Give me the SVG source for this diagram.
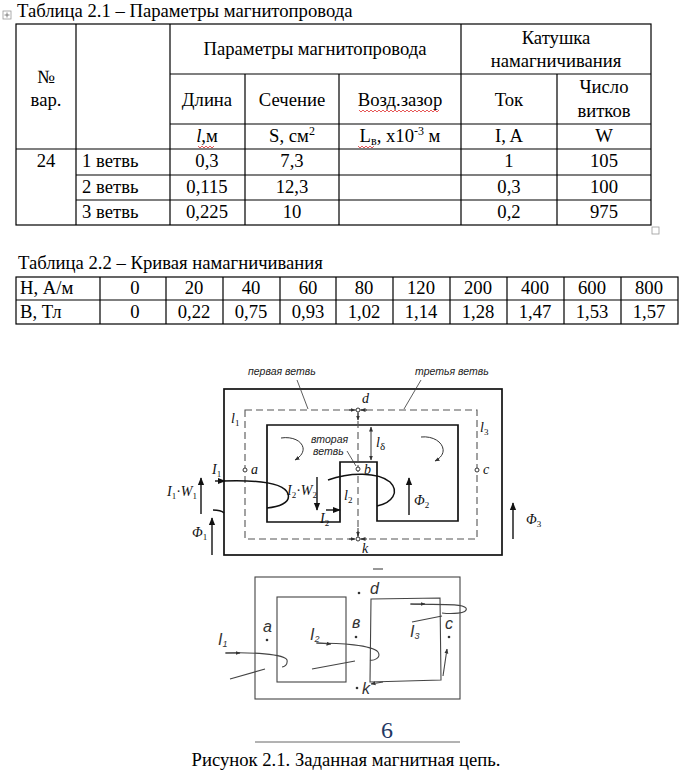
<svg xmlns="http://www.w3.org/2000/svg" width="691" height="780" viewBox="0 0 691 780">
<defs>
<style>
.t{font-family:"Liberation Serif","Times New Roman",serif;font-size:18.67px;fill:#000}
.c{text-anchor:middle}
.g{stroke:#000;stroke-width:1.2;fill:none}
.f{stroke:#111;stroke-width:1.7;fill:none}
.fd{stroke:#555;stroke-width:1.1;fill:none;stroke-dasharray:7,4}
.fi{font-family:"Liberation Serif","Times New Roman",serif;font-style:italic;font-size:14px;fill:#111}
.fs{font-family:"Liberation Sans",Arial,sans-serif;font-style:italic;font-size:10.5px;fill:#222}
.h{stroke:#444;stroke-width:1.1;fill:none}
.hw{font-family:"Liberation Sans",Arial,sans-serif;font-style:italic;font-size:16px;fill:#333}
.wv{stroke:#e03030;stroke-width:0.8;fill:none}
.ar{stroke:#111;stroke-width:1.4;fill:none}
.sa{stroke:#333;stroke-width:1;fill:none}
</style>
<marker id="ah" viewBox="0 0 10 10" refX="9" refY="5" markerWidth="8" markerHeight="8" orient="auto" markerUnits="userSpaceOnUse">
<path d="M0,1 L10,5 L0,9 z" fill="#111"/>
</marker>
<marker id="as" viewBox="0 0 10 10" refX="9" refY="5" markerWidth="5" markerHeight="5" orient="auto-start-reverse" markerUnits="userSpaceOnUse">
<path d="M0,1 L10,5 L0,9 z" fill="#333"/>
</marker>
</defs>
<rect width="691" height="780" fill="#fff"/>

<g id="table1">
<rect x="3" y="11" width="8" height="8" fill="none" stroke="#999" stroke-width="0.8"/>
<path d="M7,12.5 V17.5 M4.5,15 H9.5" stroke="#666" stroke-width="0.8"/>
<text class="t" x="17" y="17">Таблица 2.1 – Параметры магнитопровода</text>
<g class="g">
<rect x="16" y="24" width="635" height="201"/>
<path d="M76,24 V225 M170,24 V225 M461,24 V225 M245,74 V225 M339,74 V225 M557,74 V225"/>
<path d="M170,74 H651 M170,124 H651 M16,149 H651 M76,175 H651 M76,200 H651"/>
</g>
<rect x="652" y="227" width="7" height="7" fill="none" stroke="#999" stroke-width="0.8"/>
<text class="t c" x="46" y="83">№</text>
<text class="t c" x="46" y="106">вар.</text>
<text class="t c" x="315" y="55">Параметры магнитопровода</text>
<text class="t c" x="556" y="44">Катушка</text>
<text class="t c" x="556" y="67">намагничивания</text>
<text class="t c" x="207" y="106">Длина</text>
<text class="t c" x="292" y="106">Сечение</text>
<text class="t c" x="400" y="106">Возд.зазор</text>
<text class="t c" x="509" y="106">Ток</text>
<text class="t c" x="604" y="93">Число</text>
<text class="t c" x="604" y="117">витков</text>
<text class="t c" x="207" y="142"><tspan font-style="italic">l</tspan>,м</text>
<text class="t c" x="292" y="142">S, см<tspan font-size="12" dy="-7">2</tspan></text>
<text class="t c" x="400" y="142">L<tspan font-size="12" dy="3">в</tspan><tspan dy="-3">, x10</tspan><tspan font-size="12" dy="-7">-3</tspan><tspan dy="7"> м</tspan></text>
<text class="t c" x="509" y="142">I, A</text>
<text class="t c" x="604" y="142">W</text>
<text class="t c" x="46" y="167">24</text>
<text class="t" x="82" y="167">1 ветвь</text>
<text class="t" x="82" y="193">2 ветвь</text>
<text class="t" x="82" y="218">3 ветвь</text>
<text class="t c" x="207" y="167">0,3</text>
<text class="t c" x="207" y="193">0,115</text>
<text class="t c" x="207" y="218">0,225</text>
<text class="t c" x="292" y="167">7,3</text>
<text class="t c" x="292" y="193">12,3</text>
<text class="t c" x="292" y="218">10</text>
<text class="t c" x="509" y="167">1</text>
<text class="t c" x="509" y="193">0,3</text>
<text class="t c" x="509" y="218">0,2</text>
<text class="t c" x="604" y="167">105</text>
<text class="t c" x="604" y="193">100</text>
<text class="t c" x="604" y="218">975</text>
<path class="wv" d="M198,146 l2,2 l2,-2 l2,2 l2,-2 l2,2 l2,-2 l2,2 l2,-2"/>
<path class="wv" d="M359,110 l2,2 l2,-2 l2,2 l2,-2 l2,2 l2,-2 l2,2 l2,-2 l2,2 l2,-2 l2,2 l2,-2 l2,2 l2,-2 l2,2 l2,-2 l2,2 l2,-2 l2,2 l2,-2 l2,2 l2,-2 l2,2 l2,-2 l2,2 l2,-2 l2,2 l2,-2 l2,2 l2,-2 l2,2 l2,-2 l2,2 l2,-2 l2,2 l2,-2 l2,2 l2,-2 l2,2 l2,-2"/>
<path class="wv" d="M358,146 l2,2 l2,-2 l2,2 l2,-2 l2,2 l2,-2 l2,2 l2,-2"/>
</g>

<g id="table2">
<text class="t" x="18" y="269">Таблица 2.2 – Кривая намагничивания</text>
<g class="g">
<rect x="16" y="277" width="662" height="47"/>
<path d="M16,300 H678 M100,277 V324 M166,277 V324 M223,277 V324 M280,277 V324 M336,277 V324 M393,277 V324 M450,277 V324 M507,277 V324 M564,277 V324 M621,277 V324"/>
</g>
<text class="t" x="20" y="294">Н, А/м</text>
<text class="t" x="20" y="318">В, Тл</text>
<g class="t c">
<text x="135" y="294">0</text><text x="194" y="294">20</text><text x="251" y="294">40</text><text x="308" y="294">60</text><text x="364" y="294">80</text><text x="421" y="294">120</text><text x="478" y="294">200</text><text x="535" y="294">400</text><text x="592" y="294">600</text><text x="649" y="294">800</text>
<text x="135" y="318">0</text><text x="194" y="318">0,22</text><text x="251" y="318">0,75</text><text x="308" y="318">0,93</text><text x="364" y="318">1,02</text><text x="421" y="318">1,14</text><text x="478" y="318">1,28</text><text x="535" y="318">1,47</text><text x="592" y="318">1,53</text><text x="649" y="318">1,57</text>
</g>
</g>

<g id="figure-top">
<rect class="f" x="224" y="389" width="278" height="166"/>
<path class="f" d="M267,425 H458 V521 H377 V462 H340 V522 H267 Z"/>
<rect class="fd" x="245" y="410" width="232" height="129"/>
<path class="fd" d="M358,410 V539"/>
<text class="fs" x="248" y="375">первая ветвь</text>
<text class="fs" x="415" y="375">третья ветвь</text>
<text class="fs" x="311" y="443">вторая</text>
<text class="fs" x="313" y="455">ветвь</text>
<path d="M297,380 L308,409 M421,380 L404,409 M347,451 L356,466" stroke="#333" stroke-width="0.8" fill="none"/>
<g fill="#fff" stroke="#333" stroke-width="1">
<circle cx="358" cy="410" r="2"/><circle cx="358" cy="469" r="2"/><circle cx="358" cy="539" r="2"/><circle cx="245" cy="470" r="2"/><circle cx="477" cy="470" r="2"/>
</g>
<path class="sa" d="M349,410 H355" marker-end="url(#as)"/>
<path class="sa" d="M367,410 H361" marker-end="url(#as)"/>
<path class="sa" d="M349,539 H355" marker-end="url(#as)"/>
<path class="sa" d="M367,539 H361" marker-end="url(#as)"/>
<path class="sa" d="M358,413 V420" marker-end="url(#as)"/>
<path class="sa" d="M358,528 V536" marker-end="url(#as)"/>
<path class="sa" d="M371,427 V460" marker-start="url(#as)" marker-end="url(#as)"/>
<text class="fi" x="362" y="403">d</text>
<text class="fi" x="362" y="553">k</text>
<text class="fi" x="364" y="474">b</text>
<text class="fi" x="251" y="474">a</text>
<text class="fi" x="483" y="474">c</text>
<text class="fi" x="231" y="423">l<tspan font-size="9" dy="3" font-style="normal">1</tspan></text>
<text class="fi" x="480" y="432">l<tspan font-size="9" dy="3" font-style="normal">3</tspan></text>
<text class="fi" x="376" y="447">l<tspan font-size="11" dy="3" font-style="normal">δ</tspan></text>
<text class="fi" x="344" y="500">l<tspan font-size="9" dy="3" font-style="normal">2</tspan></text>
<text class="fi" x="212" y="474">I<tspan font-size="9" dy="3" font-style="normal">1</tspan></text>
<text class="fi" x="167" y="496">I<tspan font-size="9" dy="3" font-style="normal">1</tspan><tspan dy="-3" font-style="normal">·</tspan>W<tspan font-size="9" dy="3" font-style="normal">1</tspan></text>
<text class="fi" x="192" y="537">Φ<tspan font-size="9" dy="3" font-style="normal">1</tspan></text>
<text class="fi" x="287" y="495">I<tspan font-size="9" dy="3" font-style="normal">2</tspan><tspan dy="-3" font-style="normal">·</tspan>W<tspan font-size="9" dy="3" font-style="normal">2</tspan></text>
<text class="fi" x="320" y="523">I<tspan font-size="9" dy="3" font-style="normal">2</tspan></text>
<text class="fi" x="414" y="505">Φ<tspan font-size="9" dy="3" font-style="normal">2</tspan></text>
<text class="fi" x="526" y="524">Φ<tspan font-size="9" dy="3" font-style="normal">3</tspan></text>
<path class="ar" d="M201,514 V478" marker-end="url(#ah)"/>
<path class="ar" d="M212,555 V518" marker-end="url(#ah)"/>
<path class="ar" d="M317,477 V510" marker-end="url(#ah)"/>
<path class="ar" d="M409,515 V478" marker-end="url(#ah)"/>
<path class="ar" d="M513,539 V503" marker-end="url(#ah)"/>
<path class="ar" d="M326,510 H340" marker-end="url(#ah)"/>
<path class="ar" d="M215,481 H225" marker-end="url(#ah)"/>
<path d="M222,481 C250,480 284,481 288,494 C291,503 278,507 267,508" stroke="#111" stroke-width="1.5" fill="none"/>
<path d="M213,510 C218,510 222,511 224,513" stroke="#111" stroke-width="1.3" fill="none"/>
<path d="M328,480 C350,472 378,472 390,482 C400,492 392,503 377,506" stroke="#111" stroke-width="1.5" fill="none"/>
<path class="sa" d="M281,438 C300,435 312,450 295,460" marker-end="url(#as)"/>
<path class="sa" d="M421,437 C440,435 452,452 435,461" marker-end="url(#as)"/>
</g>

<g id="figure-bottom">
<rect class="h" x="255" y="577" width="205" height="122"/>
<rect class="h" x="277" y="597" width="69" height="85"/>
<path class="h" d="M371,599 L440,598 L441,680 L370,682 Z"/>
<path class="h" d="M373,569 H383"/>
<g fill="#333"><circle cx="359" cy="593" r="1.3"/><circle cx="356" cy="637" r="1.3"/><circle cx="267" cy="640" r="1.3"/><circle cx="449" cy="637" r="1.3"/><circle cx="357" cy="688" r="1.3"/></g>
<text class="hw" x="370" y="594">d</text>
<text class="hw" x="352" y="628">в</text>
<text class="hw" x="263" y="632">a</text>
<text class="hw" x="445" y="629">c</text>
<text class="hw" x="362" y="694">k</text>
<text class="hw" x="218" y="645">I<tspan font-size="9" dy="2">1</tspan></text>
<text class="hw" x="310" y="640">I<tspan font-size="9" dy="2">2</tspan></text>
<text class="hw" x="410" y="637">I<tspan font-size="9" dy="2">3</tspan></text>
<path class="h" d="M225,653 C250,652 285,654 287,660 C288,665 284,667 282,667"/>
<path class="h" d="M226,653 L240,653" marker-end="url(#as)"/>
<path class="h" d="M230,679 L265,669"/>
<path class="h" d="M316,643 C340,643 372,645 378,652 C382,658 373,661 370,660"/>
<path class="h" d="M317,643 L331,644" marker-end="url(#as)"/>
<path class="h" d="M312,669 L355,661"/>
<path class="h" d="M410,604 C435,605 462,603 466,608 C469,614 450,614 442,613"/>
<path class="h" d="M411,604 L425,604" marker-end="url(#as)"/>
<path class="h" d="M412,622 L442,616"/>
<path class="h" d="M443,676 L447,649" marker-end="url(#as)"/>
<path class="h" d="M383,682 L371,684" marker-end="url(#as)"/>
</g>

<g id="caption">
<text x="387" y="738" font-family="'Liberation Serif','Times New Roman',serif" font-size="24" fill="#1f3864" text-anchor="middle">6</text>
<path d="M255,742 H460" stroke="#666" stroke-width="1"/>
<text class="t c" x="346" y="766">Рисунок 2.1. Заданная магнитная цепь.</text>
</g>
</svg>
